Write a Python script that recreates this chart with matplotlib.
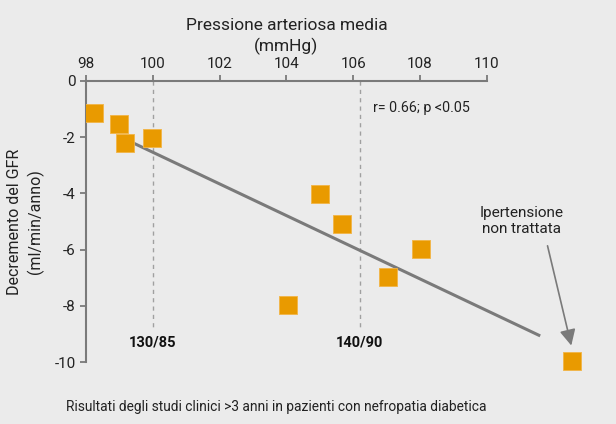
import matplotlib.pyplot as plt

# mean arterial pressure (mmHg) vs GFR decline (ml/min/anno)
pam = [98.25, 98.99, 99.17, 99.98, 105.0, 105.66, 104.05, 107.04, 108.03, 112.55]
gfr = [-1.14, -1.53, -2.2, -2.03, -4.02, -5.09, -7.97, -6.98, -5.98, -9.96]

# regression line end points
fit_x = [99.4, 111.6]
fit_y = [-2.2, -9.07]

# reference thresholds
soglie_x = [100, 106.2]
soglie_lab = ["130/85", "140/90"]

x_ticks = [98, 100, 102, 104, 106, 108, 110]
y_ticks = [0, -2, -4, -6, -8, -10]

bg = "#ebebeb"
orange = "#e99a00"
grey = "#7a7a7a"

plt.rcParams['font.family'] = ['Roboto', 'DejaVu Sans']
plt.rcParams['axes.unicode_minus'] = False

fig = plt.figure(figsize=(6.16, 4.24), dpi=100, facecolor=bg)
ax = fig.add_axes([0.1396, 0.1064, 0.8344, 0.7028])
ax.set_facecolor(bg)

x0, x1 = 98, 113.39
y0, y1 = -10.6, 0
ax.set_xlim(x0, x1)
ax.set_ylim(y0, y1)

for xs, lab in zip(soglie_x, soglie_lab):
    ax.plot([xs, xs], [0, -8.8], color="#a0a0a0", lw=1, ls=(0, (3, 3)), zorder=1)
    ax.text(xs, -9.3, lab, ha="center", va="center", fontsize=10.5, fontweight="bold", color="#111111")

ax.plot(fit_x, fit_y, color=grey, lw=2.2, zorder=2, solid_capstyle="butt")
ax.scatter(pam, gfr, marker="s", s=150, color=orange, edgecolor="#f2b446", linewidth=0.6, zorder=3)

ax.xaxis.tick_top()
ax.xaxis.set_label_position("top")
ax.set_xticks(x_ticks)
ax.set_yticks(y_ticks)
ax.tick_params(axis="both", colors=grey, labelcolor="#222222", labelsize=11, width=1.3, length=4)
ax.tick_params(axis="x", pad=3)

for s in ["right", "bottom"]:
    ax.spines[s].set_visible(False)
ax.spines["top"].set_bounds(98, 110)
ax.spines["left"].set_bounds(-10, 0)
for s in ["top", "left"]:
    ax.spines[s].set_color(grey)
    ax.spines[s].set_linewidth(1.5)

ax.set_xlabel("Pressione arteriosa media\n(mmHg)", fontsize=12.5, color="#222222", linespacing=1.35)
ax.xaxis.set_label_coords((104 - x0) / (x1 - x0), 1.1)
ax.set_ylabel("Decremento del GFR\n(ml/min/anno)", fontsize=11.5, color="#222222", linespacing=1.35)
ax.yaxis.set_label_coords(-0.082, (-5 - y0) / (y1 - y0))

ax.text(106.6, -0.95, "r= 0.66; p <0.05", fontsize=10.3, color="#222222", va="center")

ax.text(111.05, -4.98, "Ipertensione\nnon trattata", fontsize=11, color="#222222", ha="center", va="center", linespacing=1.15)
ax.annotate("", xy=(pam[-1], gfr[-1] + 0.45), xytext=(111.8, -5.77),
            arrowprops=dict(arrowstyle="-|>,head_length=0.6,head_width=0.3", color=grey, lw=1.2, mutation_scale=16))

fig.text(66 / 616, 1 - 407 / 424, "Risultati degli studi clinici >3 anni in pazienti con nefropatia diabetica",
         fontsize=9.9, color="#222222", va="center", ha="left")

fig.savefig("out.png", dpi=100, facecolor=bg)
